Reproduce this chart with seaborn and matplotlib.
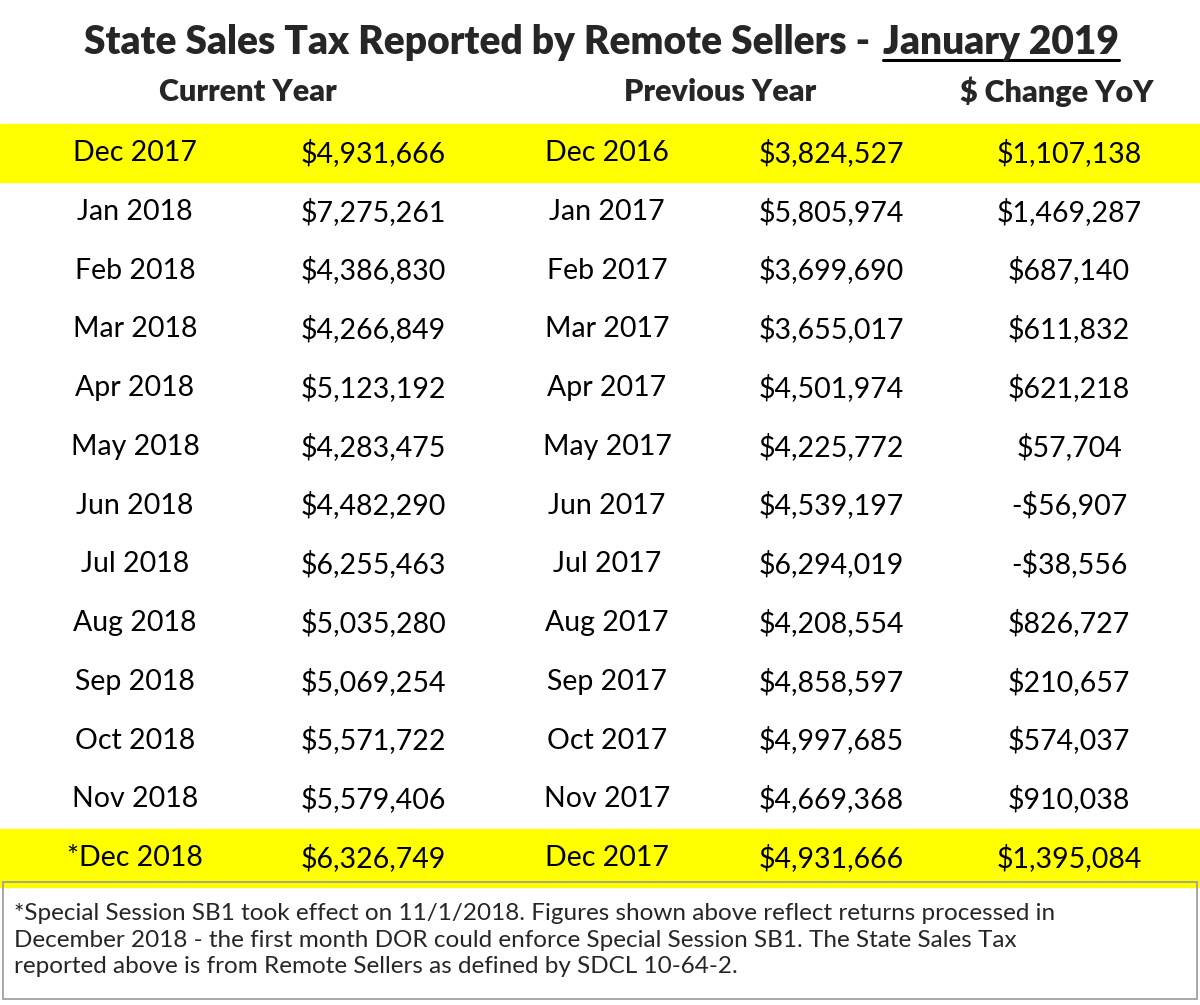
import matplotlib
matplotlib.use("Agg")
import matplotlib.pyplot as plt
import seaborn as sns
from matplotlib.patches import Rectangle

sns.set_theme(style="white", font="Lato")

cur_months = ["Dec 2017", "Jan 2018", "Feb 2018", "Mar 2018", "Apr 2018", "May 2018", "Jun 2018",
              "Jul 2018", "Aug 2018", "Sep 2018", "Oct 2018", "Nov 2018", "*Dec 2018"]
cur_vals = ["$4,931,666", "$7,275,261", "$4,386,830", "$4,266,849", "$5,123,192", "$4,283,475", "$4,482,290",
            "$6,255,463", "$5,035,280", "$5,069,254", "$5,571,722", "$5,579,406", "$6,326,749"]
prev_months = ["Dec 2016", "Jan 2017", "Feb 2017", "Mar 2017", "Apr 2017", "May 2017", "Jun 2017",
               "Jul 2017", "Aug 2017", "Sep 2017", "Oct 2017", "Nov 2017", "Dec 2017"]
prev_vals = ["$3,824,527", "$5,805,974", "$3,699,690", "$3,655,017", "$4,501,974", "$4,225,772", "$4,539,197",
             "$6,294,019", "$4,208,554", "$4,858,597", "$4,997,685", "$4,669,368", "$4,931,666"]
changes = ["$1,107,138", "$1,469,287", "$687,140", "$611,832", "$621,218", "$57,704", "-$56,907",
           "-$38,556", "$826,727", "$210,657", "$574,037", "$910,038", "$1,395,084"]
highlight_rows = [0, 12]
footnote = ("*Special Session SB1 took effect on 11/1/2018. Figures shown above reflect returns processed in\n"
            "December 2018 - the first month DOR could enforce Special Session SB1. The State Sales Tax\n"
            "reported above is from Remote Sellers as defined by SDCL 10-64-2.")

fig = plt.figure(figsize=(12, 10.05), dpi=100)
ax = fig.add_axes([0, 0, 1, 1])
ax.set_xlim(0, 1200)
ax.set_ylim(1005, 0)
ax.axis("off")

row_y0, row_h = 153, 58.75
for r in highlight_rows:
    y = row_y0 + r * row_h
    ax.add_patch(Rectangle((0, y - 29), 1200, 58, color="#ffff00", zorder=0))

col_x = [135, 373, 607, 831, 1069]
cols = [cur_months, cur_vals, prev_months, prev_vals, changes]
for x, col in zip(col_x, cols):
    for i, s in enumerate(col):
        ax.text(x, row_y0 + i * row_h, s, ha="center", va="center", fontsize=20.5, color="black")

for x, s in [(248, "Current Year"), (720, "Previous Year"), (1057, "$ Change YoY")]:
    ax.text(x, 92, s, ha="center", va="center", fontsize=22, fontweight="heavy")

# title with underlined date
t1 = ax.text(890, 42, "State Sales Tax Reported by Remote Sellers - ", ha="right", va="center",
             fontsize=28, fontweight="heavy")
t2 = ax.text(893, 42, "January 2019", ha="left", va="center", fontsize=28, fontweight="heavy")
fig.canvas.draw()
r = fig.canvas.get_renderer()
b1 = t1.get_window_extent(r)
b2 = t2.get_window_extent(r)
total = b1.width + b2.width
shift = 600 - (b1.x0 + total / 2)
t1.set_x(890 + shift)
t2.set_x(893 + shift)
ax.plot([893 + shift, 893 + shift + b2.width], [60, 60], color="black", lw=2.2)

ax.add_patch(Rectangle((3, 882), 1194, 117, fill=False, edgecolor="#999999", lw=1.2))
ax.text(14, 940, footnote, ha="left", va="center", fontsize=17.5, linespacing=1.3)

fig.savefig("out.png", dpi=100)
